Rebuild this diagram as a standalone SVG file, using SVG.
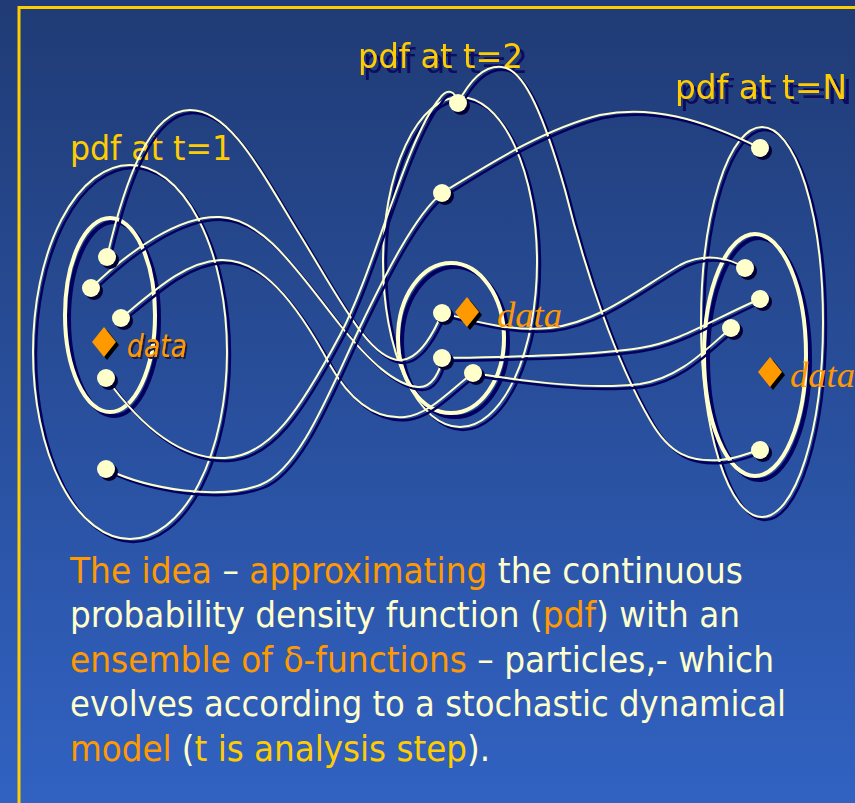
<svg xmlns="http://www.w3.org/2000/svg" xmlns:xlink="http://www.w3.org/1999/xlink" width="855" height="803" viewBox="0 0 855 803">
<style>
.sh{stroke:#00005e;stroke-width:2.4;fill:none}
.ln{stroke:#ffffcc;stroke-width:2;fill:none}
.shk{stroke:#00005e;stroke-width:4;fill:none}
.lnk{stroke:#ffffcc;stroke-width:4;fill:none}
.pt{fill:#ffffcc}
.psh{fill:#000033}
.dia{fill:#ff9900}
.dsh{fill:#000000}
.lbl{font-family:"DejaVu Sans Condensed","DejaVu Sans","Liberation Sans",sans-serif;font-stretch:condensed;font-size:34px;fill:#ffcc00}
.shadowed{filter:url(#tsh)}
.dsans{font-family:"DejaVu Sans Condensed","DejaVu Sans","Liberation Sans",sans-serif;font-stretch:condensed;font-style:italic;font-size:32px;fill:#ff9900;filter:url(#tsh2)}
.dserif{font-family:"Liberation Serif","Times New Roman",serif;font-style:italic;font-size:36px;fill:#ff9900}
.body{font-family:"DejaVu Sans Condensed","DejaVu Sans","Liberation Sans",sans-serif;font-stretch:condensed;font-size:36px;fill:#ffffcc}
.o{fill:#ff9900}
.y{fill:#ffcc00}
</style>
<defs>
<linearGradient id="bg" x1="0" y1="0" x2="0" y2="1">
<stop offset="0" stop-color="#203b75"/>
<stop offset="1" stop-color="#3162c2"/>
</linearGradient>
<filter id="tsh" x="-10%" y="-30%" width="130%" height="170%">
<feDropShadow dx="5" dy="5" stdDeviation="0" flood-color="#0a0a5e" flood-opacity="1"/>
</filter>
<filter id="tsh2" x="-10%" y="-30%" width="130%" height="170%">
<feDropShadow dx="2" dy="2" stdDeviation="0" flood-color="#1a1a40" flood-opacity="1"/>
</filter>
<circle id="pt" r="9"/>
<path id="dm" d="M0,-15 L12,0 L0,15 L-12,0 Z"/>
<ellipse id="eLo" cx="130" cy="352" rx="97" ry="187"/>
<ellipse id="eLi" cx="110" cy="315" rx="45" ry="97"/>
<ellipse id="eMo" cx="460" cy="262" rx="77" ry="165"/>
<ellipse id="eMi" cx="451" cy="338" rx="53" ry="75"/>
<ellipse id="eRo" cx="762" cy="322" rx="61" ry="195"/>
<ellipse id="eRi" cx="755" cy="355" rx="51" ry="121"/>
<path id="c1" d="M107,257 C125,180 150,110 190,110 C230,110 260,170 300,235 C340,300 370,360 400,360 C420,360 435,330 442,313"/>
<path id="c2" d="M91,288 C130,250 180,215 220,217 C265,219 300,275 340,325 C370,362 395,385 418,387 C432,388 440,372 442,358"/>
<path id="c3" d="M121,318 C155,290 185,262 220,260 C260,258 295,300 330,365 C350,400 375,420 405,417 C430,414 450,390 473,373"/>
<path id="c4" d="M106,378 C140,425 180,460 225,458 C270,456 300,410 340,335 C375,270 405,140 440,98 C447,88 455,90 458,103"/>
<path id="c5" d="M106,469 C150,490 220,500 260,485 C300,470 330,390 360,327 C385,275 415,215 442,193"/>
<path id="c6" d="M458,103 C470,80 485,65 502,67 C525,69 545,120 565,190 C585,270 615,360 650,420 C670,455 690,462 720,460 C740,458 750,452 760,450"/>
<path id="c7" d="M442,193 C480,170 540,130 600,115 C650,105 700,118 760,148"/>
<path id="c8" d="M442,313 C470,320 510,332 550,328 C600,322 640,288 680,265 C705,252 730,258 745,268"/>
<path id="c9" d="M442,358 C500,357 590,356 640,348 C680,342 715,318 760,299"/>
<path id="c10" d="M473,373 C530,382 590,390 640,384 C680,378 705,350 731,328"/>
</defs>
<rect width="855" height="803" fill="url(#bg)"/>
<path d="M19,803 V7.5 H855" fill="none" stroke="#ffcc00" stroke-width="3"/>

<g id="label-t1"><text class="lbl" x="70" y="160" textLength="162" lengthAdjust="spacingAndGlyphs">pdf at t=1</text></g>
<g id="label-t2"><text class="lbl shadowed" x="358" y="68" textLength="165" lengthAdjust="spacingAndGlyphs">pdf at t=2</text></g>
<g id="label-tN"><text class="lbl shadowed" x="675" y="99" textLength="172" lengthAdjust="spacingAndGlyphs">pdf at t=N</text></g>

<g id="pdf-t1">
<use href="#eLo" class="sh" transform="translate(3,3)"/><use href="#eLo" class="ln"/>
<use href="#eLi" class="shk" transform="translate(4,4)"/><use href="#eLi" class="lnk"/>
</g>
<g id="pdf-t2">
<use href="#eMo" class="sh" transform="translate(3,3)"/><use href="#eMo" class="ln"/>
<use href="#eMi" class="shk" transform="translate(4,4)"/><use href="#eMi" class="lnk"/>
</g>
<g id="pdf-tN">
<use href="#eRo" class="sh" transform="translate(3,3)"/><use href="#eRo" class="ln"/>
<use href="#eRi" class="shk" transform="translate(4,4)"/><use href="#eRi" class="lnk"/>
</g>

<g id="connectors">
<use href="#c1" class="sh" transform="translate(3,3)"/><use href="#c1" class="ln"/>
<use href="#c2" class="sh" transform="translate(3,3)"/><use href="#c2" class="ln"/>
<use href="#c3" class="sh" transform="translate(3,3)"/><use href="#c3" class="ln"/>
<use href="#c4" class="sh" transform="translate(3,3)"/><use href="#c4" class="ln"/>
<use href="#c5" class="sh" transform="translate(3,3)"/><use href="#c5" class="ln"/>
<use href="#c6" class="sh" transform="translate(3,3)"/><use href="#c6" class="ln"/>
<use href="#c7" class="sh" transform="translate(3,3)"/><use href="#c7" class="ln"/>
<use href="#c8" class="sh" transform="translate(3,3)"/><use href="#c8" class="ln"/>
<use href="#c9" class="sh" transform="translate(3,3)"/><use href="#c9" class="ln"/>
<use href="#c10" class="sh" transform="translate(3,3)"/><use href="#c10" class="ln"/>
</g>

<g id="particles-t1">
<use href="#pt" class="psh" x="110" y="260"/><use href="#pt" class="pt" x="107" y="257"/>
<use href="#pt" class="psh" x="94" y="291"/><use href="#pt" class="pt" x="91" y="288"/>
<use href="#pt" class="psh" x="124" y="321"/><use href="#pt" class="pt" x="121" y="318"/>
<use href="#pt" class="psh" x="109" y="381"/><use href="#pt" class="pt" x="106" y="378"/>
<use href="#pt" class="psh" x="109" y="472"/><use href="#pt" class="pt" x="106" y="469"/>
</g>
<g id="particles-t2">
<use href="#pt" class="psh" x="461" y="106"/><use href="#pt" class="pt" x="458" y="103"/>
<use href="#pt" class="psh" x="445" y="196"/><use href="#pt" class="pt" x="442" y="193"/>
<use href="#pt" class="psh" x="445" y="316"/><use href="#pt" class="pt" x="442" y="313"/>
<use href="#pt" class="psh" x="445" y="361"/><use href="#pt" class="pt" x="442" y="358"/>
<use href="#pt" class="psh" x="476" y="376"/><use href="#pt" class="pt" x="473" y="373"/>
</g>
<g id="particles-tN">
<use href="#pt" class="psh" x="763" y="151"/><use href="#pt" class="pt" x="760" y="148"/>
<use href="#pt" class="psh" x="748" y="271"/><use href="#pt" class="pt" x="745" y="268"/>
<use href="#pt" class="psh" x="763" y="302"/><use href="#pt" class="pt" x="760" y="299"/>
<use href="#pt" class="psh" x="734" y="331"/><use href="#pt" class="pt" x="731" y="328"/>
<use href="#pt" class="psh" x="763" y="453"/><use href="#pt" class="pt" x="760" y="450"/>
</g>

<g id="data-t1">
<use href="#dm" class="dsh" x="107" y="345"/><use href="#dm" class="dia" x="104" y="342"/>
<text class="dsans" x="127" y="357" textLength="60" lengthAdjust="spacingAndGlyphs">data</text>
</g>
<g id="data-t2">
<use href="#dm" class="dsh" x="470" y="315"/><use href="#dm" class="dia" x="467" y="312"/>
<text class="dserif" x="497" y="327" textLength="65" lengthAdjust="spacingAndGlyphs">data</text>
</g>
<g id="data-tN">
<use href="#dm" class="dsh" x="773" y="375"/><use href="#dm" class="dia" x="770" y="372"/>
<text class="dserif" x="790" y="387" textLength="65" lengthAdjust="spacingAndGlyphs">data</text>
</g>

<g id="caption">
<text class="body" x="70" y="583" textLength="673" lengthAdjust="spacingAndGlyphs" xml:space="preserve"><tspan class="o">The idea</tspan> – <tspan class="o">approximating</tspan> the continuous</text>
<text class="body" x="70" y="627" textLength="670" lengthAdjust="spacingAndGlyphs" xml:space="preserve">probability density function (<tspan class="o">pdf</tspan>) with an</text>
<text class="body" x="70" y="672" textLength="704" lengthAdjust="spacingAndGlyphs" xml:space="preserve"><tspan class="o">ensemble of δ-functions</tspan> – particles,- which</text>
<text class="body" x="70" y="716" textLength="716" lengthAdjust="spacingAndGlyphs">evolves according to a stochastic dynamical</text>
<text class="body" x="70" y="761" textLength="420" lengthAdjust="spacingAndGlyphs" xml:space="preserve"><tspan class="o">model</tspan> (<tspan class="y">t is analysis step</tspan>).</text>
</g>
</svg>
